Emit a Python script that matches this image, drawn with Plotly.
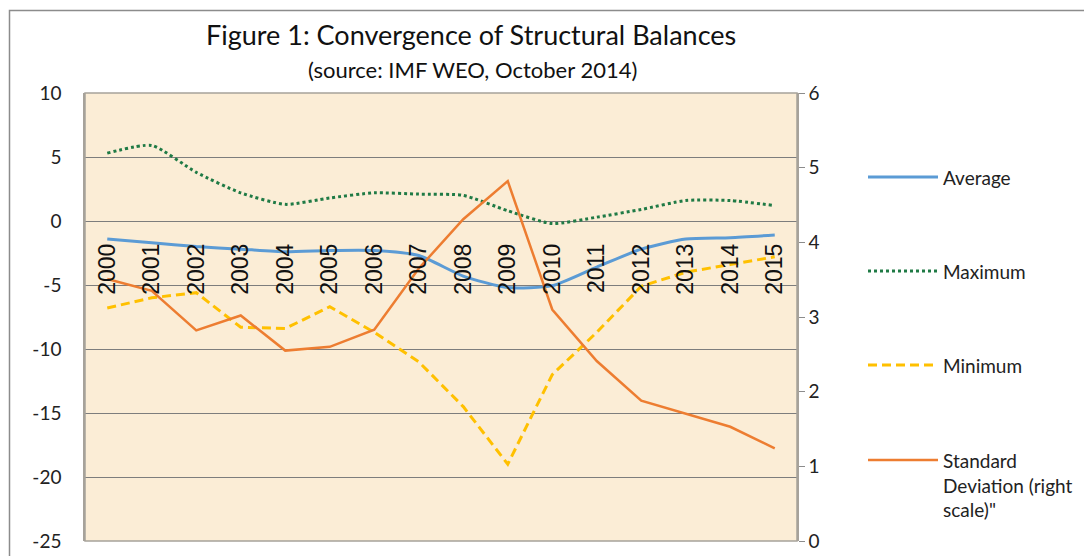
import plotly.graph_objects as go

years = [str(y) for y in range(2000, 2016)]
average = [-1.4, -1.7, -2.0, -2.2, -2.4, -2.3, -2.3, -2.7, -4.3, -5.2, -5.05, -3.6, -2.2, -1.4, -1.3, -1.1]
maximum = [5.3, 5.9, 3.8, 2.2, 1.3, 1.8, 2.2, 2.1, 2.0, 0.8, -0.2, 0.3, 0.9, 1.6, 1.6, 1.2]
minimum = [-6.8, -6.0, -5.6, -8.3, -8.4, -6.7, -8.7, -11.0, -14.5, -19.0, -12.0, -8.7, -5.1, -4.0, -3.4, -2.8]
std_dev = [3.51, 3.35, 2.82, 3.02, 2.55, 2.6, 2.83, 3.65, 4.31, 4.82, 3.1, 2.41, 1.88, 1.71, 1.53, 1.24]

left_ticks = [10, 5, 0, -5, -10, -15, -20, -25]
left_labels = ["10", "5", "0", "-5", "-10", "-15", "-20", "-25"]
right_ticks = [0, 1, 2, 3, 4, 5, 6]

names = ["Average", "Maximum", "Minimum", 'Standard<br>Deviation (right<br>scale)"']

# the page body has an 8px margin, so work in page pixels and shift back
OFF = 8
W, H = 1092 - OFF, 556 - OFF
L, R, T, B = 85, 797, 93, 541
FONT = "Lato, 'Open Sans', sans-serif"

def px(x):
    return (x - L) / (R - L)

def py(y):
    return (B - y) / (B - T)

styles = [
    dict(color="#5B9BD5", width=3, dash="solid", shape="spline"),
    dict(color="#1F7A45", width=3, dash="3px,3px", shape="spline"),
    dict(color="#FFC000", width=3, dash="9px,5px", shape="linear"),
    dict(color="#ED7D31", width=2.5, dash="solid", shape="linear"),
]

fig = go.Figure()
for i, vals in enumerate([average, maximum, minimum]):
    s = styles[i]
    fig.add_trace(go.Scatter(x=years, y=vals, mode="lines", name=names[i], showlegend=False,
                             line=dict(color=s["color"], width=s["width"], dash=s["dash"],
                                       shape=s["shape"], smoothing=0.6)))
s = styles[3]
fig.add_trace(go.Scatter(x=years, y=std_dev, mode="lines", name=names[3], yaxis="y2", showlegend=False,
                         line=dict(color=s["color"], width=s["width"], dash=s["dash"])))

# hand made legend, Excel style long swatches
leg_y = [177, 271, 365, 460]
for i, s in enumerate(styles):
    fig.add_shape(type="line", xref="paper", yref="paper", x0=px(868), x1=px(938), y0=py(leg_y[i]), y1=py(leg_y[i]),
                  line=dict(color=s["color"], width=s["width"], dash=s["dash"]))
    fig.add_annotation(x=px(941), y=py(leg_y[i] - 13), xref="paper", yref="paper", text=names[i],
                       showarrow=False, xanchor="left", yanchor="top", align="left",
                       font=dict(family=FONT, size=19, color="#222"))

# outer chart border and plot area frame
fig.add_shape(type="rect", xref="paper", yref="paper", x0=px(9.5), x1=px(1200), y0=py(10.5), y1=py(700),
              line=dict(color="#8c8c8c", width=1.5))
fig.add_shape(type="rect", xref="paper", yref="paper", x0=0, x1=1, y0=0, y1=1,
              line=dict(color="#a7a29a", width=1.5))

fig.add_annotation(x=px(471), y=py(35), xref="paper", yref="paper", showarrow=False,
                   xanchor="center", yanchor="middle",
                   text="Figure 1: Convergence of Structural Balances",
                   font=dict(family=FONT, size=27, color="#111"))
fig.add_annotation(x=px(472), y=py(70), xref="paper", yref="paper", showarrow=False,
                   xanchor="center", yanchor="middle",
                   text="(source: IMF WEO, October 2014)",
                   font=dict(family=FONT, size=22, color="#111"))

fig.update_layout(
    width=W, height=H,
    margin=dict(l=L - OFF, r=1092 - R, t=T - OFF, b=556 - B, autoexpand=False),
    paper_bgcolor="white",
    plot_bgcolor="#FBEDD6",
    font=dict(family=FONT, size=19, color="#222"),
    showlegend=False,
    xaxis=dict(type="category", categoryorder="array", categoryarray=years, range=[-0.5, 15.5],
               anchor="free", position=py(238), showline=False, showgrid=False, ticks="",
               tickangle=-90, tickfont=dict(family="Liberation Sans, Arial", size=23, color="#111"),
               zeroline=False, automargin=False),
    yaxis=dict(range=[-25, 10], tickvals=left_ticks, ticktext=left_labels, showgrid=True,
               gridcolor="#7d7d7d", gridwidth=1, automargin=False,
               zeroline=False, showline=True, linecolor="#a7a29a", linewidth=1.5, ticks="",
               ticklabelstandoff=18),
    yaxis2=dict(range=[0, 6], tickvals=right_ticks, overlaying="y", side="right", anchor="x", showgrid=False,
                zeroline=False, showline=True, linecolor="#a7a29a", linewidth=1.5, automargin=False,
                ticks="outside", ticklen=6, tickcolor="#8c8c8c"),
)

fig.write_html("out.html")
